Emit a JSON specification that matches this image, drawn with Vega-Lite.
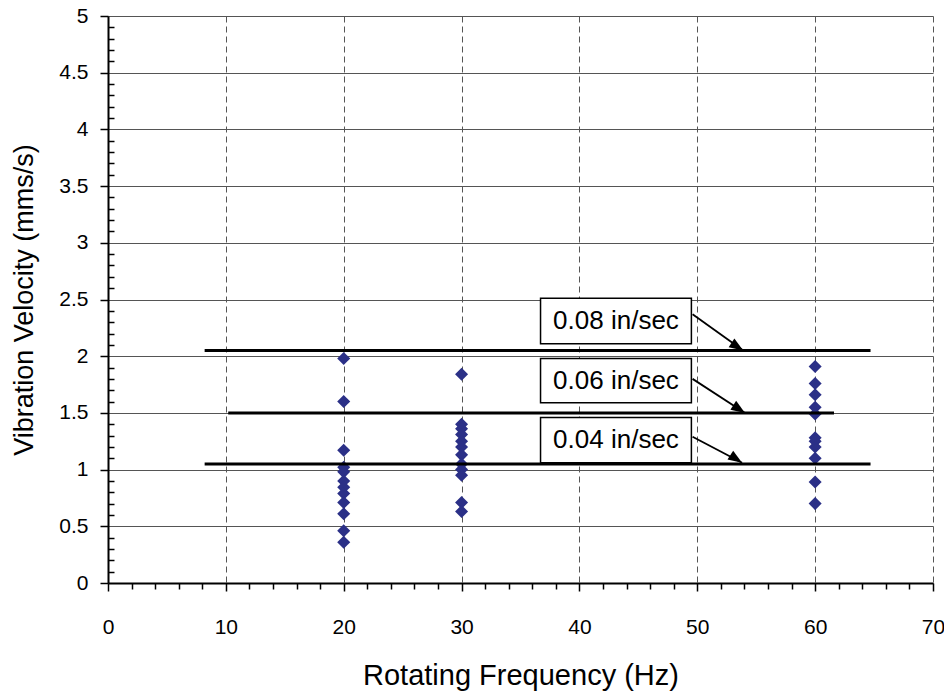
{
  "$schema": "https://vega.github.io/schema/vega-lite/v6.json",
  "width": 825,
  "height": 567,
  "autosize": "none",
  "padding": {"left": 108, "top": 16, "right": 11, "bottom": 111},
  "background": "white",
  "config": {"view": {"stroke": null}, "font": "Liberation Sans"},
  "resolve": {"axis": {"x": "independent", "y": "independent"}},
  "datasets": {
    "pts": [
      {"f": 20, "v": 1.98}, {"f": 20, "v": 1.60}, {"f": 20, "v": 1.17}, {"f": 20, "v": 1.02},
      {"f": 20, "v": 0.98}, {"f": 20, "v": 0.90}, {"f": 20, "v": 0.845}, {"f": 20, "v": 0.79},
      {"f": 20, "v": 0.71}, {"f": 20, "v": 0.61}, {"f": 20, "v": 0.46}, {"f": 20, "v": 0.36},
      {"f": 30, "v": 1.84}, {"f": 30, "v": 1.40}, {"f": 30, "v": 1.36}, {"f": 30, "v": 1.31},
      {"f": 30, "v": 1.25}, {"f": 30, "v": 1.20}, {"f": 30, "v": 1.13}, {"f": 30, "v": 1.05},
      {"f": 30, "v": 1.00}, {"f": 30, "v": 0.95}, {"f": 30, "v": 0.71}, {"f": 30, "v": 0.63},
      {"f": 60, "v": 1.91}, {"f": 60, "v": 1.76}, {"f": 60, "v": 1.66}, {"f": 60, "v": 1.55},
      {"f": 60, "v": 1.49}, {"f": 60, "v": 1.28}, {"f": 60, "v": 1.25}, {"f": 60, "v": 1.20},
      {"f": 60, "v": 1.10}, {"f": 60, "v": 0.89}, {"f": 60, "v": 0.70}
    ],
    "lines": [
      {"label": "0.08 in/sec", "v": 2.05, "x1": 8.2, "x2": 64.7, "bx1": 36.7, "bx2": 49.5, "by1": 2.51, "by2": 2.11, "ty": 2.31, "ax1": 49.6, "ay1": 2.37, "ax2": 53.9, "ay2": 2.05},
      {"label": "0.06 in/sec", "v": 1.50, "x1": 10.2, "x2": 61.6, "bx1": 36.7, "bx2": 49.5, "by1": 1.98, "by2": 1.59, "ty": 1.785, "ax1": 49.6, "ay1": 1.80, "ax2": 54.05, "ay2": 1.50},
      {"label": "0.04 in/sec", "v": 1.05, "x1": 8.2, "x2": 64.7, "bx1": 36.7, "bx2": 49.5, "by1": 1.46, "by2": 1.06, "ty": 1.26, "ax1": 49.6, "ay1": 1.29, "ax2": 53.8, "ay2": 1.06}
    ]
  },
  "layer": [
    {
      "data": {"name": "pts"},
      "mark": {"type": "point", "shape": "diamond", "filled": true, "color": "#2B3087", "size": 170, "opacity": 1},
      "encoding": {
        "x": {
          "field": "f", "type": "quantitative",
          "scale": {"domain": [0, 70], "nice": false, "zero": false},
          "axis": {
            "orient": "bottom",
            "title": "Rotating Frequency (Hz)",
            "values": [0, 10, 20, 30, 40, 50, 60, 70],
            "labelOverlap": false, "labelFlush": false,
            "labelFontSize": 21, "labelColor": "black", "labelPadding": 25,
            "titleFontSize": 29, "titleFontWeight": "normal", "titleColor": "black", "titlePadding": 24,
            "domainColor": "black", "domainWidth": 2,
            "tickColor": "black", "tickWidth": 1.5, "tickSize": 8,
            "grid": true, "gridColor": "#555", "gridDash": [6, 4], "gridWidth": 1
          }
        },
        "y": {
          "field": "v", "type": "quantitative",
          "scale": {"domain": [0, 5], "nice": false, "zero": false},
          "axis": {
            "orient": "left",
            "title": "Vibration Velocity (mms/s)",
            "values": [0, 0.5, 1, 1.5, 2, 2.5, 3, 3.5, 4, 4.5, 5],
            "format": "~g",
            "labelOverlap": false, "labelFlush": false,
            "labelFontSize": 21, "labelColor": "black", "labelPadding": 12,
            "titleFontSize": 27, "titleFontWeight": "normal", "titleColor": "black", "titlePadding": 20,
            "domainColor": "black", "domainWidth": 2,
            "tickColor": "black", "tickWidth": 1.5, "tickSize": 8,
            "grid": true, "gridColor": "#555", "gridWidth": 1
          }
        }
      }
    },
    {
      "data": {"name": "lines"},
      "mark": {"type": "rule", "color": "black", "strokeWidth": 3},
      "encoding": {
        "x": {
          "field": "x1", "type": "quantitative",
          "axis": {
            "orient": "bottom", "title": null, "labels": false, "domain": false, "grid": false,
            "values": [2,4,6,8,12,14,16,18,22,24,26,28,32,34,36,38,42,44,46,48,52,54,56,58,62,64,66,68],
            "tickColor": "black", "tickWidth": 1.5, "tickSize": 6
          }
        },
        "x2": {"field": "x2"},
        "y": {
          "field": "v", "type": "quantitative",
          "axis": {
            "orient": "left", "title": null, "labels": false, "domain": false, "grid": false,
            "values": [0.1,0.2,0.3,0.4,0.6,0.7,0.8,0.9,1.1,1.2,1.3,1.4,1.6,1.7,1.8,1.9,2.1,2.2,2.3,2.4,2.6,2.7,2.8,2.9,3.1,3.2,3.3,3.4,3.6,3.7,3.8,3.9,4.1,4.2,4.3,4.4,4.6,4.7,4.8,4.9],
            "tickColor": "black", "tickWidth": 1.5, "tickSize": -6
          }
        }
      }
    },
    {
      "data": {"name": "lines"},
      "mark": {"type": "rule", "color": "black", "strokeWidth": 1.8},
      "encoding": {
        "x": {"field": "ax1", "type": "quantitative", "axis": null},
        "x2": {"field": "ax2"},
        "y": {"field": "ay1", "type": "quantitative", "axis": null},
        "y2": {"field": "ay2"}
      }
    },
    {
      "data": {"name": "lines"},
      "mark": {"type": "point", "shape": "M0,0L-2,-0.75L-2,0.75Z", "filled": true, "color": "black", "size": 196, "opacity": 1, "angle": 33},
      "encoding": {
        "x": {"field": "ax2", "type": "quantitative", "axis": null},
        "y": {"field": "ay2", "type": "quantitative", "axis": null}
      }
    },
    {
      "data": {"name": "lines"},
      "mark": {"type": "rect", "fill": "white", "stroke": "black", "strokeWidth": 1.5},
      "encoding": {
        "x": {"field": "bx1", "type": "quantitative", "axis": null},
        "x2": {"field": "bx2"},
        "y": {"field": "by1", "type": "quantitative", "axis": null},
        "y2": {"field": "by2"}
      }
    },
    {
      "data": {"name": "lines"},
      "mark": {"type": "text", "fontSize": 26, "color": "black", "align": "center", "baseline": "middle"},
      "encoding": {
        "x": {"datum": 43.1, "type": "quantitative", "axis": null},
        "y": {"field": "ty", "type": "quantitative", "axis": null},
        "text": {"field": "label"}
      }
    }
  ]
}
